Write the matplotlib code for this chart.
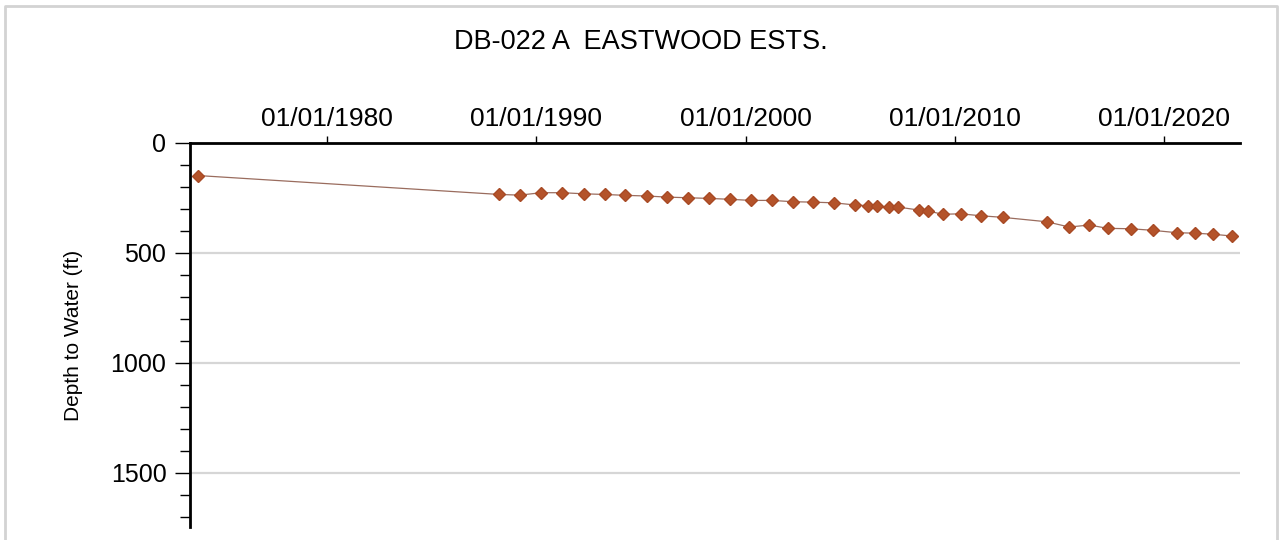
import pandas as pd
import numpy as np
import matplotlib.pyplot as plt
import matplotlib.dates as mdates
from matplotlib.lines import Line2D
from matplotlib.ticker import MultipleLocator

plt.rcParams["font.family"] = ["Liberation Sans", "DejaVu Sans"]

title = "DB-022 A  EASTWOOD ESTS."
y_label = "Depth to Water (ft)"

dates = [
    "1973-10-30", "1988-03-25", "1989-03-18", "1990-03-25", "1991-03-25",
    "1992-04-08", "1993-04-08", "1994-03-28", "1995-04-08", "1996-03-28",
    "1997-04-05", "1998-04-05", "1999-04-01", "2000-04-01", "2001-03-28",
    "2002-04-12", "2003-03-25", "2004-03-22", "2005-04-01", "2005-11-10",
    "2006-04-05", "2006-11-10", "2007-04-08", "2008-04-12", "2008-09-12",
    "2009-06-03", "2010-04-15", "2011-04-05", "2012-04-12", "2014-05-20",
    "2015-06-20", "2016-06-03", "2017-04-20", "2018-06-03", "2019-06-14",
    "2020-08-18", "2021-06-25", "2022-05-08", "2023-04-05",
]
depth = [
    148, 234, 237, 226, 226,
    231, 234, 238, 241, 246,
    249, 252, 256, 261, 261,
    267, 269, 272, 282, 285,
    288, 291, 291, 305, 309,
    324, 322, 331, 338, 358,
    382, 373, 388, 390, 397,
    408, 410, 415, 423,
]
x_ticks = ["1980-01-01", "1990-01-01", "2000-01-01", "2010-01-01", "2020-01-01"]
y_ticks = [0, 500, 1000, 1500]

df = pd.DataFrame({"date": pd.to_datetime(dates), "depth": depth})

fig = plt.figure(figsize=(12.82, 5.40), dpi=100)
ax = fig.add_axes([190 / 1282, 13 / 540, 1050 / 1282, 384 / 540])

ax.plot(df["date"], df["depth"], color="#9a6c5e", linewidth=0.9, zorder=3)
ax.plot(df["date"], df["depth"], linestyle="none", marker="D", markersize=6,
        color="#b4532a", markeredgecolor="#a84a25", zorder=4)

ax.set_xlim(pd.Timestamp("1973-06-10"), pd.Timestamp("2023-08-18"))
ax.set_ylim(1746, 0)

ax.xaxis.tick_top()
ax.set_xticks(pd.to_datetime(x_ticks))
ax.xaxis.set_major_formatter(mdates.DateFormatter("%m/%d/%Y"))
ax.tick_params(axis="x", labelsize=19, length=5, width=1, pad=4, direction="out")

ax.set_yticks(y_ticks)
ax.yaxis.set_minor_locator(MultipleLocator(100))
ax.tick_params(axis="y", which="major", labelsize=18, length=11, width=1, pad=6)
ax.tick_params(axis="y", which="minor", length=7, width=1)

ax.set_ylabel(y_label, fontsize=15, labelpad=20)

for v in y_ticks[1:]:
    ax.axhline(v, color="#d6d6d6", linewidth=1.6, zorder=1)

ax.spines["bottom"].set_visible(False)
ax.spines["right"].set_visible(False)
ax.spines["top"].set_linewidth(2)
ax.spines["left"].set_linewidth(2)

fig.text(641 / 1282, 1 - 42 / 540, title, fontsize=19.5, ha="center", va="center")

# light frame round the picture
frame_x = [5 / 1282, 5 / 1282, 1277 / 1282, 1277 / 1282]
frame_y = [0, 1 - 6 / 540, 1 - 6 / 540, 0]
fig.add_artist(Line2D(frame_x, frame_y, transform=fig.transFigure,
                      color="#d3d3d3", linewidth=2))

fig.savefig("out.png", dpi=100)
